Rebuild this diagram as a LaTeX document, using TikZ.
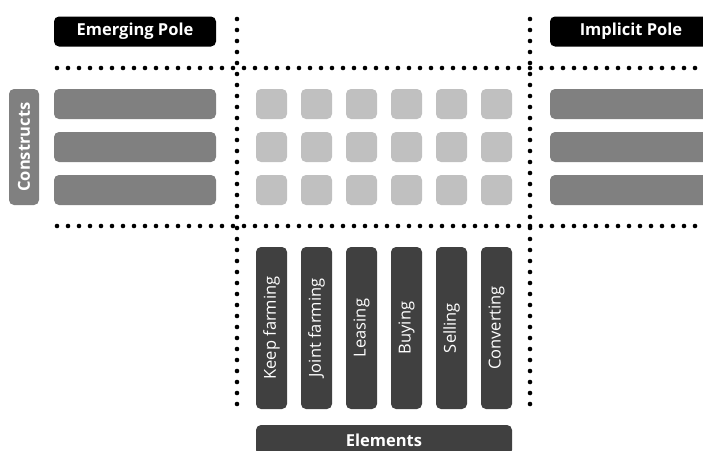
\documentclass[tikz,border=0pt]{standalone}
\usepackage{fontspec}
\setmainfont{Open Sans}
\begin{document}
\begin{tikzpicture}[x=1pt,y=-1pt,
  box/.style={rounded corners=5pt, inner sep=0pt, text=white, draw=none},
  pole/.style={box, fill=black, minimum width=162pt, minimum height=30pt, font=\bfseries\fontsize{16.5}{19}\selectfont},
  bar/.style={box, fill=gray50, minimum width=162pt, minimum height=30pt},
  cell/.style={box, fill=gray75, minimum width=31pt, minimum height=30pt},
  elem/.style={box, fill=gray25, rotate=90, minimum width=162pt, minimum height=31pt, font=\fontsize{16.5}{19}\selectfont},
  dots/.style={line width=4.6pt, line cap=round, dash pattern=on 0pt off 11pt}
]
\definecolor{gray50}{HTML}{808080}
\definecolor{gray75}{HTML}{C0C0C0}
\definecolor{gray25}{HTML}{404040}
\useasboundingbox (0,0) rectangle (703,450);
\clip (0,0) rectangle (703,450);

% dotted grid lines
\coordinate (vlt) at (237,19);
\coordinate (vlb) at (237,409);
\coordinate (vrt) at (530,19);
\coordinate (vrb) at (530,409);
\coordinate (hal) at (57,68);
\coordinate (har) at (710,68);
\coordinate (hbl) at (57,226);
\coordinate (hbr) at (710,226);
\draw[dots] (vlt) -- (vlb);
\draw[dots] (vrt) -- (vrb);
\draw[dots] (hal) -- (har);
\draw[dots] (hbl) -- (hbr);

% poles
\node[pole] (emerg) at (135,31.5) {Emerging Pole};
\node[pole] (impl) at (631,31.5) {Implicit Pole};

% constructs label
\node[box, fill=gray50, rotate=90, minimum width=116pt, minimum height=30pt,
      font=\bfseries\fontsize{16.5}{19}\selectfont] (constr) at (24,147) {Constructs};

% construct bars
\foreach \r/\y in {1/104,2/147,3/190}{
  \node[bar] (L\r) at (135,\y) {};
  \node[bar] (R\r) at (631,\y) {};
  \foreach \c/\x in {1/271.5,2/316.5,3/361.5,4/406.5,5/451.5,6/496.5}{
    \node[cell] (c\r\c) at (\x,\y) {};
  }
}

% elements
\node[elem] (e1) at (271.5,328) {Keep farming};
\node[elem] (e2) at (316.5,328) {Joint farming};
\node[elem] (e3) at (361.5,328) {Leasing};
\node[elem] (e4) at (406.5,328) {Buying};
\node[elem] (e5) at (451.5,328) {Selling};
\node[elem] (e6) at (496.5,328) {Converting};

\node[box, fill=gray25, minimum width=256pt, minimum height=30pt,
      font=\bfseries\fontsize{16.5}{19}\selectfont] (elements) at (384,440) {Elements};
\end{tikzpicture}
\end{document}
